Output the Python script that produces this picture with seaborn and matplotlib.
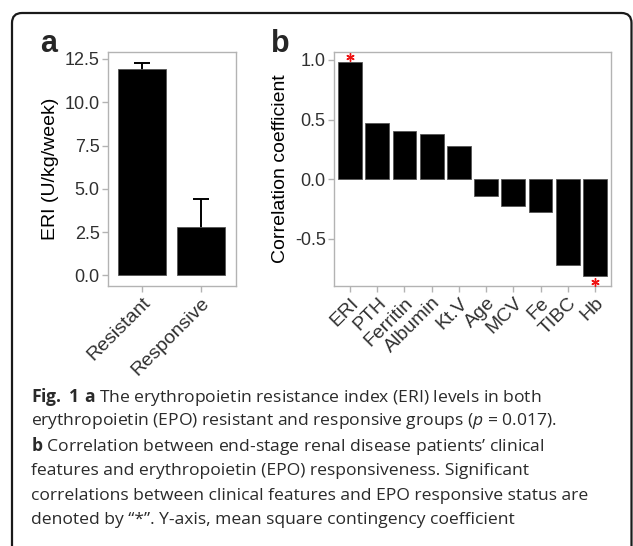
import matplotlib
matplotlib.use("Agg")
import matplotlib.pyplot as plt
import seaborn as sns
import pandas as pd
from matplotlib.patches import FancyBboxPatch
from matplotlib.transforms import IdentityTransform, ScaledTranslation

# ---- data ----
groups = ["Resistant", "Responsive"]
eri_mean = [11.92, 2.78]
eri_sd = [0.37, 1.64]

features = ["ERI", "PTH", "Ferritin", "Albumin", "Kt.V", "Age", "MCV", "Fe", "TIBC", "Hb"]
corr = [0.98, 0.475, 0.405, 0.38, 0.276, -0.137, -0.227, -0.274, -0.72, -0.81]
significant = ["ERI", "Hb"]

a_ticks = [0.0, 2.5, 5.0, 7.5, 10.0, 12.5]
b_ticks = [-0.5, 0.0, 0.5, 1.0]

caption_lines = [
    r"$\mathbf{Fig.\ 1\ a}$ The erythropoietin resistance index (ERI) levels in both",
    r"erythropoietin (EPO) resistant and responsive groups ($\mathit{p}$ = 0.017).",
    r"$\mathbf{b}$ Correlation between end-stage renal disease patients’ clinical",
    "features and erythropoietin (EPO) responsiveness. Significant",
    "correlations between clinical features and EPO responsive status are",
    "denoted by “*”. Y-axis, mean square contingency coefficient",
]

sns.set_theme(style="white")
plt.rcParams["font.family"] = ["Liberation Sans", "DejaVu Sans"]
plt.rcParams["axes.unicode_minus"] = False
plt.rcParams["mathtext.fontset"] = "custom"
plt.rcParams["mathtext.rm"] = "Open Sans"
plt.rcParams["mathtext.bf"] = "Open Sans:bold"
plt.rcParams["mathtext.it"] = "Open Sans:italic"

W, H = 633, 546
fig = plt.figure(figsize=(W / 100, H / 100), dpi=100)

spine_col = "#b3b3b3"
tick_txt = "#303030"


def style_axes(ax):
    for s in ax.spines.values():
        s.set_visible(True)
        s.set_color(spine_col)
        s.set_linewidth(1.0)
    ax.tick_params(axis="both", which="both", length=4, width=1.0, color=spine_col,
                   labelcolor=tick_txt, labelsize=13, pad=2, direction="out",
                   bottom=True, left=True)
    ax.grid(False)
    for lab in ax.get_xticklabels():
        lab.set_rotation(45)
        lab.set_ha("right")
        lab.set_va("top")
        lab.set_rotation_mode("anchor")
        lab.set_fontsize(14)


# ---- panel a ----
axa = fig.add_axes([108 / W, 1 - 286 / H, 128 / W, 234 / H])
dfa = pd.DataFrame({"group": groups, "ERI": eri_mean})
axa.errorbar(range(len(groups)), eri_mean, yerr=eri_sd,
             fmt="none", ecolor="black", elinewidth=1.4, capsize=5.5, capthick=1.4, zorder=1)
sns.barplot(data=dfa, x="group", y="ERI", color="black", width=0.82, ax=axa,
            edgecolor="#555555", linewidth=0.6, saturation=1, zorder=2)
axa.set_xlim(-0.58, 1.59)
axa.set_ylim(-0.61, 12.9)
axa.set_yticks(a_ticks)
axa.set_yticklabels([f"{t:.1f}" for t in a_ticks])
axa.set_xlabel("")
axa.set_ylabel("ERI (U/kg/week)", fontsize=14, color="black", labelpad=4)
style_axes(axa)

# ---- panel b ----
axb = fig.add_axes([334 / W, 1 - 286 / H, 277 / W, 234 / H])
dfb = pd.DataFrame({"feature": features, "corr": corr})
sns.barplot(data=dfb, x="feature", y="corr", color="black", width=0.88, ax=axb,
            edgecolor="#555555", linewidth=0.6, saturation=1)
axb.set_xlim(-0.59, 9.59)
axb.set_ylim(-0.894, 1.067)
axb.set_yticks(b_ticks)
axb.set_yticklabels([f"{t:.1f}" for t in b_ticks])
axb.set_xlabel("")
axb.set_ylabel("Correlation coefficient", fontsize=14, color="black", labelpad=4)
style_axes(axb)

for i, (f, v) in enumerate(zip(features, corr)):
    if f in significant:
        dy = 4.0 if v > 0 else -4.5
        tr = axb.transData + ScaledTranslation(0, dy / 72, fig.dpi_scale_trans)
        axb.plot([i], [v], marker=(6, 2, 0), markersize=6, markeredgewidth=1.0,
                 color="#ee1111", transform=tr, clip_on=False, zorder=5)

# panel labels
fig.text(40 / W, 1 - 52 / H, "a", fontsize=22, fontweight="bold", va="baseline", ha="left")
fig.text(271 / W, 1 - 52 / H, "b", fontsize=22, fontweight="bold", va="baseline", ha="left")

# caption
ys = [397, 421, 446, 471, 496, 520]
for y, line in zip(ys, caption_lines):
    fig.text(31 / W, 1 - y / H, line, fontsize=12.6, family="Open Sans",
             va="center", ha="left", color="#2a2a2a")

# frame
box = FancyBboxPatch((12, -30), 619.5, 546 - 13 + 30,
                     boxstyle="round,pad=0,rounding_size=10",
                     transform=IdentityTransform(), fill=False,
                     edgecolor="#1a1a1a", linewidth=1.6)
fig.patches.append(box)

fig.savefig("out.png", dpi=100)
